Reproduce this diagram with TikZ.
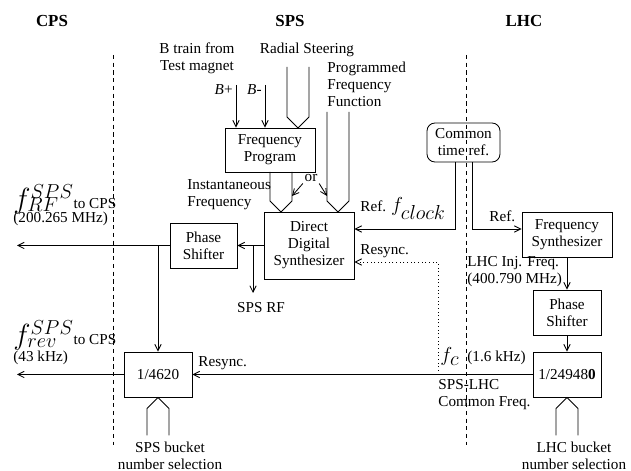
\documentclass[tikz,border=0pt]{standalone}
\usepackage{fontspec}
\setmainfont{Liberation Serif}
\usetikzlibrary{arrows.meta}

% subscript set a little higher than TeX puts it
\newcommand{\highsub}[1]{\raisebox{3pt}{\smash{$\scriptstyle #1$}}}

\begin{document}
\begin{tikzpicture}[
    x=0.025cm, y=-0.025cm,
    line width=0.6pt,
    every node/.style={font=\fontsize{10.8}{12.1}\selectfont},
    box/.style={rectangle, draw, align=center, inner sep=0pt},
    title/.style={font=\large\bfseries},
    lbl/.style={inner sep=0pt},
    edge/.style={-{Straight Barb[length=4.5pt, width=4.5pt]}},
    border/.style={dash pattern=on 3pt off 2.5pt}
]
    \useasboundingbox (0,0) rectangle (631,471);

    % machine names
    \node[title] (cps) at (52,21) {CPS};
    \node[title] (sps) at (290,21) {SPS};
    \node[title] (lhc) at (524,21) {LHC};

    % borders between the machines
    \draw[border] (113,55) -- (113,445);
    \draw[border] (466,55) -- (466,445);

    % blocks
    \node[box, minimum width=2.25cm, minimum height=1.1cm] (freqprog) at (270,150) {Frequency\\Program};
    \node[box, minimum width=2.25cm, minimum height=1.675cm] (dds) at (309,245.5) {Direct\\Digital\\Synthesizer};
    \node[box, minimum width=1.675cm, minimum height=1.125cm] (spsshift) at (203.5,245.5) {Phase\\Shifter};
    \node[box, minimum width=1.7cm, minimum height=1.125cm] (spsdiv) at (158,374.5) {1/4620};
    \node[box, rounded corners=0.2cm, minimum width=1.825cm, minimum height=0.975cm] (common) at (463.5,142.5) {Common\\time ref.};
    \node[box, minimum width=2.25cm, minimum height=1.125cm] (synth) at (567,234.5) {Frequency\\Synthesizer};
    \node[box, minimum width=1.7cm, minimum height=1.125cm] (lhcshift) at (567,312.5) {Phase\\Shifter};
    \node[box, minimum width=1.7cm, minimum height=1.125cm] (lhcdiv) at (567,374.5) {1/24948\textbf{0}};

    % labels
    \node[lbl, align=center] (btrain) at (197,58.5) {B train from\\Test magnet};
    \node[lbl] (radial) at (307,50) {Radial Steering};
    \node[lbl, anchor=west, align=left] (progfreq) at (327,84) {Programmed\\Frequency\\Function};
    \node[lbl, anchor=base east] (bplus) at (233,95) {\textit{B}+};
    \node[lbl, anchor=base east] (bminus) at (262,95) {\textit{B}-};
    \node[inner sep=1pt] (orlabel) at (311,178) {or};
    \node[lbl, anchor=west, align=left] (instfreq) at (187,194.5) {Instantaneous\\Frequency};
    \node[lbl] (spsrf) at (261,308) {SPS RF};
    \node[lbl, anchor=base west] (rfname) at (13,209) {{\huge$f^{SPS}_{\highsub{RF}}$}to CPS};
    \node[lbl, anchor=base west] (rfrate) at (13,223) {(200.265 MHz)};
    \node[lbl, anchor=base west] (revname) at (13,345) {{\huge$f^{SPS}_{\highsub{rev}}$}to CPS};
    \node[lbl, anchor=base west] (revrate) at (13,362) {(43 kHz)};
    \node[lbl, anchor=base west] (clkref) at (360,212) {Ref. {\Large$f_{\textstyle clock}$}};
    \node[lbl, anchor=base west] (synthref) at (489,222) {Ref.};
    \node[lbl, anchor=base west] (ddsresync) at (360,255) {Resync.};
    \node[lbl, anchor=base west] (divresync) at (198,367) {Resync.};
    \node[lbl, anchor=west, align=left] (lhcinj) at (467,271.5) {LHC Inj. Freq.\\(400.790 MHz)};
    \node[lbl, anchor=base west] (fclabel) at (440,362) {\Large$f_{\textstyle c}$};
    \node[lbl, anchor=base west] (fcrate) at (467,362) {(1.6 kHz)};
    \node[lbl, anchor=west, align=left] (spslhc) at (438,394.5) {SPS-LHC\\Common Freq.};
    \node[lbl, align=center] (spsbucket) at (170,456) {SPS bucket\\number selection};
    \node[lbl, align=center] (lhcbucket) at (574,456) {LHC bucket\\number selection};

    % free ends and taps
    \coordinate (rstip) at (298,128);
    \coordinate (fptip) at (281,212);
    \coordinate (pfftip) at (338,212);
    \coordinate (bplusin) at (236,85);
    \coordinate (bminusin) at (265,85);
    \coordinate (orleft) at (292,196);
    \coordinate (orright) at (327,196);
    \coordinate (rftap) at (253,245.5);
    \coordinate (rfend) at (253,293);
    \coordinate (rfout) at (17,245.5);
    \coordinate (revtap) at (158,245.5);
    \coordinate (revout) at (17,374.5);
    \coordinate (fctap) at (438,374.5);

    % buses
    \foreach \tip/\len in {rstip/50, fptip/29, pfftip/89}
        \draw (\tip) ++(-11,-11-\len) -- ++(0,\len) -- ++(11,11) -- ++(11,-11) -- ++(0,-\len);
    \foreach \tip in {spsdiv.south, lhcdiv.south}
        \draw (\tip) ++(-11,38) -- ++(0,-27) -- ++(11,-11) -- ++(11,11) -- ++(0,27);

    % SPS side
    \draw[edge] (bplusin) -- (bplusin |- freqprog.north);
    \draw[edge] (bminusin) -- (bminusin |- freqprog.north);
    \draw[edge] (orlabel.south west) -- (orleft);
    \draw[edge] (orlabel.south east) -- (orright);
    \draw[edge] (dds) -- (spsshift);
    \draw[edge] (rftap) -- (rfend);
    \draw[edge] (spsshift) -- (rfout);
    \draw[edge] (revtap) -- (spsdiv);
    \draw[edge] (spsdiv) -- (revout);

    % common reference
    \draw[edge] ([xshift=-0.2125cm]common.south) |- ([yshift=0.4125cm]dds.east);
    \draw[edge] ([xshift=0.2125cm]common.south) |- ([yshift=0.1375cm]synth.west);

    % LHC side
    \draw[edge] (synth) -- (lhcshift);
    \draw[edge] (lhcshift) -- (lhcdiv);
    \draw[edge] (lhcdiv) -- (spsdiv);
    \draw[edge, dotted] (fctap) |- ([yshift=-0.4125cm]dds.east);
\end{tikzpicture}
\end{document}
